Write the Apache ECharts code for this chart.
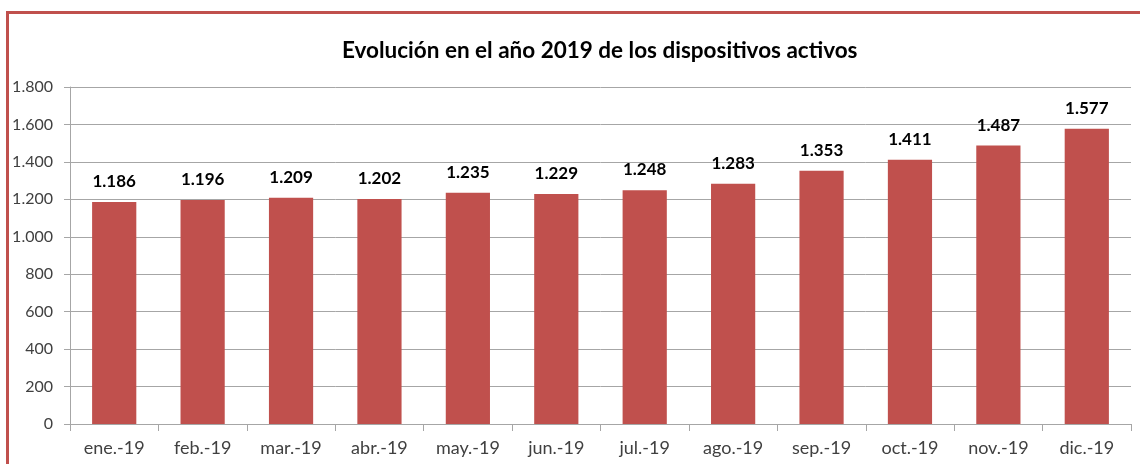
<!DOCTYPE html>
<html>
<head>
<meta charset="utf-8">
<title>Dispositivos activos 2019</title>
<script src="https://cdn.jsdelivr.net/npm/echarts@6/dist/echarts.min.js"></script>
<style>
  body { margin: 0; background: #fff; }
  #chart { width: 1140px; height: 464px; }
  #marco { position: absolute; left: 6px; top: 11px; width: 1200px; height: 500px;
           border-left: 3px solid #c0504d; border-top: 3px solid #c0504d; pointer-events: none; }
</style>
</head>
<body>
<div id="chart"></div>
<div id="marco"></div>
<script>
// datos
var meses = ['ene.-19', 'feb.-19', 'mar.-19', 'abr.-19', 'may.-19', 'jun.-19',
             'jul.-19', 'ago.-19', 'sep.-19', 'oct.-19', 'nov.-19', 'dic.-19'];
var activos = [1186, 1196, 1209, 1202, 1235, 1229, 1248, 1283, 1353, 1411, 1487, 1577];

// separador de miles con punto
function miles(v) {
    return String(v).replace(/\B(?=(\d{3})+(?!\d))/g, '.');
}

var chart = echarts.init(document.getElementById('chart'));
chart.setOption({
    animation: false,
    textStyle: { fontFamily: 'Lato' },
    title: {
        text: 'Evolución en el año 2019 de los dispositivos activos',
        left: 337,
        top: 34,
        textStyle: { fontFamily: 'Lato', fontSize: 22.5, fontWeight: 'bold', color: '#000' }
    },
    grid: { left: 70, right: 9, top: 87, bottom: 40 },
    xAxis: {
        type: 'category',
        data: meses,
        axisLine: { lineStyle: { color: '#a6a6a6', width: 1 } },
        axisTick: { show: true, length: 7, lineStyle: { color: '#a6a6a6' } },
        axisLabel: { color: '#404040', fontSize: 18, margin: 15 }
    },
    yAxis: {
        type: 'value',
        min: 0,
        max: 1800,
        interval: 200,
        axisLine: { show: true, lineStyle: { color: '#a6a6a6' } },
        axisTick: { show: true, length: 6, lineStyle: { color: '#a6a6a6' } },
        splitLine: { lineStyle: { color: '#a6a6a6' } },
        axisLabel: { color: '#404040', fontSize: 16, margin: 17, formatter: miles }
    },
    series: [{
        type: 'bar',
        data: activos,
        barCategoryGap: '50%',
        itemStyle: { color: '#c0504d' },
        label: {
            show: true,
            position: 'top',
            distance: 12,
            color: '#000',
            fontSize: 17,
            fontWeight: 'bold',
            formatter: function (p) { return miles(p.value); }
        }
    }]
});
</script>
</body>
</html>
